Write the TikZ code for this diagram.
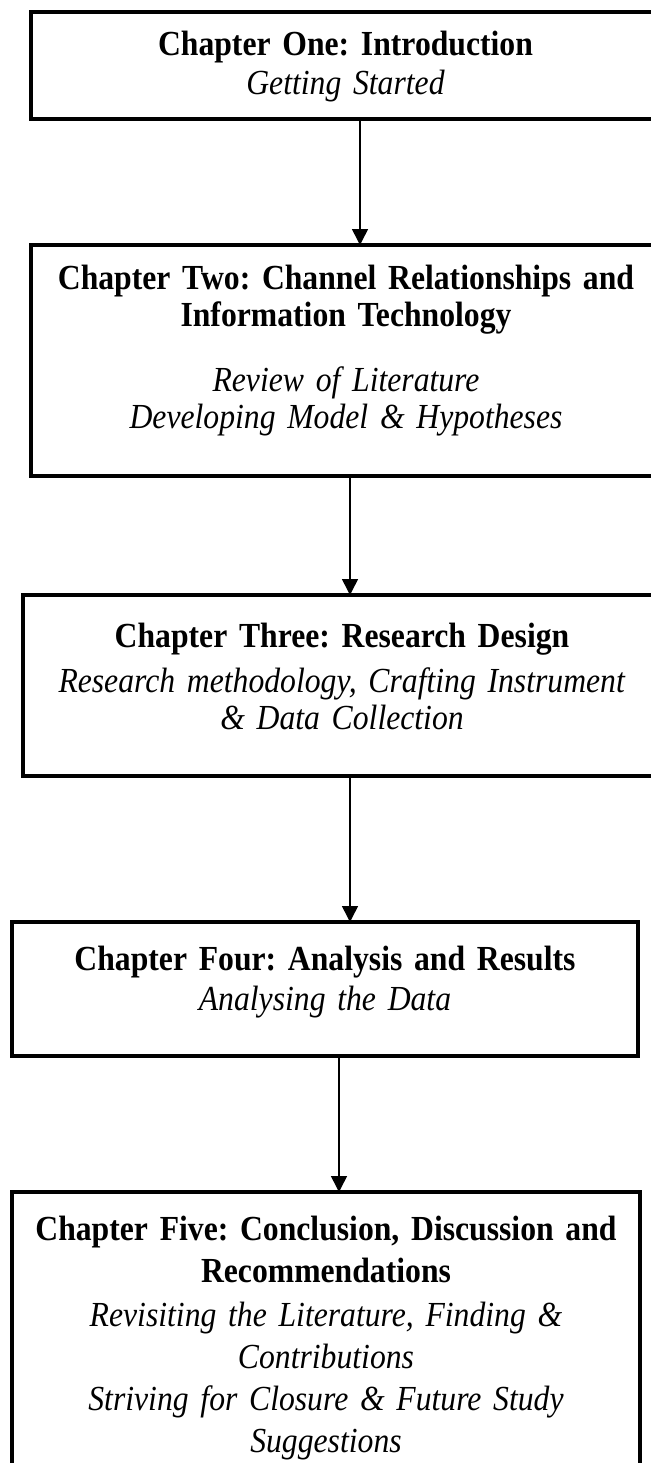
\documentclass[tikz,border=0pt]{standalone}
\usepackage{fontspec}
\setmainfont{Liberation Serif}[FakeStretch=0.9]
\usetikzlibrary{arrows.meta,positioning}
\frenchspacing
\begin{document}
\begin{tikzpicture}[x=0.5pt,y=-0.5pt,
    frame/.style={draw,line width=2.25pt,inner sep=0pt,outer sep=0pt},
    txt/.style={align=center,inner sep=0pt,text width=320pt,font=\fontsize{17.6}{18.5}\selectfont},
    arr/.style={-{Triangle[width=8pt,length=8pt]},line width=0.75pt}]
    \useasboundingbox (0,0) rectangle (650,1463);
    \node[frame,minimum width=314.5pt,minimum height=53.5pt] (one) at (345.5,65.5) {};
    \node[txt,below=9.5pt of one.north] (onetxt)
      {\textbf{Chapter One: Introduction}\\[1pt]\textit{Getting Started}};
    \node[frame,minimum width=315pt,minimum height=115.5pt] (two) at (346,360.5) {};
    \node[txt,below=10pt of two.north] (twotxt)
      {\textbf{Chapter Two: Channel Relationships and}\\\textbf{Information Technology}\\[14pt]
       \textit{Review of Literature}\\\textit{Developing Model \& Hypotheses}};
    \node[frame,minimum width=319pt,minimum height=90.5pt] (three) at (342,685.5) {};
    \node[txt,below=14pt of three.north] (threetxt)
      {\textbf{Chapter Three: Research Design}\\[4pt]\textit{Research methodology, Crafting Instrument}\\
       \textit{\& Data Collection}};
    \node[frame,minimum width=313pt,minimum height=67pt] (four) at (325,989) {};
    \node[txt,below=12pt of four.north] (fourtxt)
      {\textbf{Chapter Four: Analysis and Results}\\[1.5pt]\textit{Analysing the Data}};
    \node[frame,minimum width=314pt,minimum height=154pt] (five) at (326,1346) {};
    \node[txt,font=\fontsize{17.6}{21}\selectfont,below=12pt of five.north] (fivetxt)
      {\textbf{Chapter Five: Conclusion, Discussion and}\\\textbf{Recommendations}\\[1pt]
       \textit{Revisiting the Literature, Finding \&}\\\textit{Contributions}\\
       \textit{Striving for Closure \& Future Study}\\\textit{Suggestions}};
    \draw[arr] ([xshift=7.25pt]one.south) -- ([xshift=7.25pt]one.south |- two.north);
    \draw[arr] ([xshift=2pt]two.south) -- ([xshift=2pt]two.south |- three.north);
    \draw[arr] ([xshift=4pt]three.south) -- ([xshift=4pt]three.south |- four.north);
    \draw[arr] ([xshift=7pt]four.south) -- ([xshift=7pt]four.south |- five.north);
\end{tikzpicture}
\end{document}
